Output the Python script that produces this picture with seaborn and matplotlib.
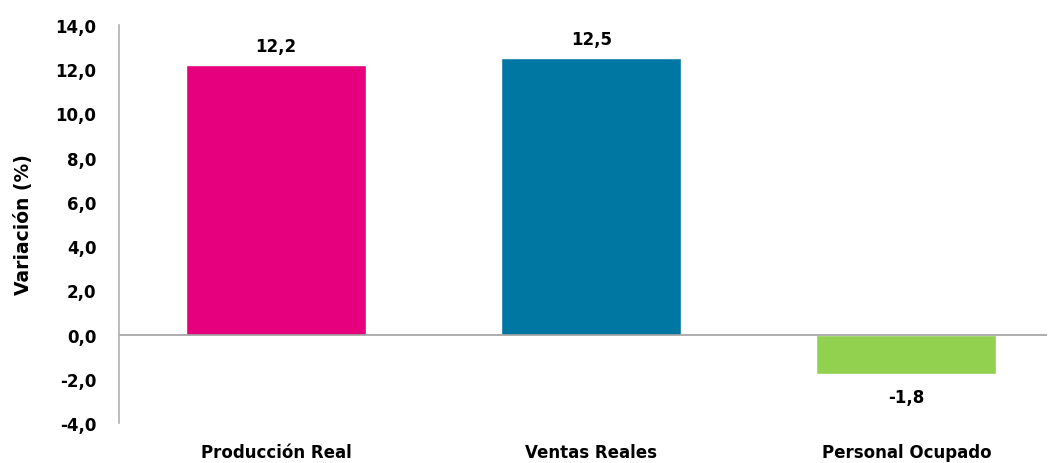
import seaborn as sns
import matplotlib.pyplot as plt
import pandas as pd

categorias = ["Producción Real", "Ventas Reales", "Personal Ocupado"]
valores = [12.2, 12.5, -1.8]
colores = ["#E6007E", "#0077A3", "#92D050"]

df = pd.DataFrame({"cat": categorias, "val": valores})

sns.set_style("white")
plt.rcParams["font.family"] = ["DejaVu Sans"]
plt.rcParams["text.color"] = "black"
plt.rcParams["axes.labelcolor"] = "black"
plt.rcParams["xtick.color"] = "black"
plt.rcParams["ytick.color"] = "black"

fig = plt.figure(figsize=(10.5, 4.64), dpi=100)
ax = fig.add_axes([0.113, 0.086, 0.884, 0.858])

sns.barplot(data=df, x="cat", y="val", hue="cat", palette=colores,
            width=0.571, legend=False, ax=ax, saturation=1)

ax.set_ylim(-4, 14)
ax.set_xlim(-0.5, 2.446)
ticks = list(range(-4, 15, 2))
ax.set_yticks(ticks)
ax.set_yticklabels([f"{t:.1f}".replace(".", ",") for t in ticks],
                   fontsize=12, fontweight="bold")
ax.set_xticks(range(len(categorias)))
ax.set_xticklabels(categorias, fontsize=12, fontweight="bold")
ax.tick_params(axis="x", length=0, pad=14)
ax.tick_params(axis="y", length=0, pad=16)
ax.set_xlabel("")
ax.set_ylabel("Variación (%)", fontsize=13.5, fontweight="bold", labelpad=16)

ax.axhline(0, color="#A0A0A0", lw=1.2)
for s in ["top", "right", "bottom"]:
    ax.spines[s].set_visible(False)
ax.spines["left"].set_color("#B0B0B0")
ax.spines["left"].set_linewidth(1.2)

for i, v in enumerate(valores):
    txt = f"{v:.1f}".replace(".", ",")
    if v >= 0:
        ax.text(i, v + 0.45, txt, ha="center", va="bottom", fontsize=12, fontweight="bold")
    else:
        ax.text(i, v - 0.6, txt, ha="center", va="top", fontsize=12, fontweight="bold")

fig.savefig("out.png", dpi=100)
